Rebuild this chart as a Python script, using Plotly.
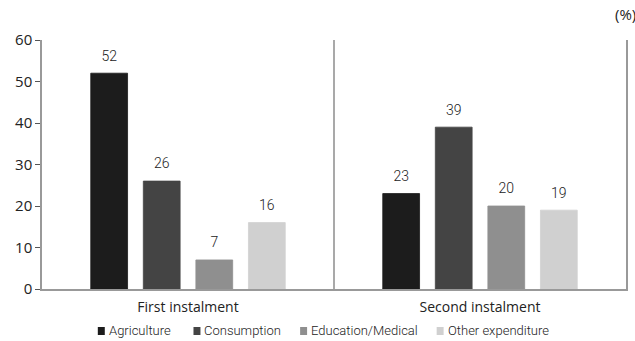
import plotly.graph_objects as go

# Share of each instalment spent by purpose (%)
instalments = ["First instalment", "Second instalment"]
series_names = ["Agriculture", "Consumption", "Education/Medical", "Other expenditure"]
series_values = [
    [52, 23],
    [26, 39],
    [7, 20],
    [16, 19],
]
series_colors = ["#1c1c1c", "#444444", "#8f8f8f", "#d0d0d0"]
y_ticks = [0, 10, 20, 30, 40, 50, 60]

# Pixel layout of the figure
W, H = 635, 341
ML, MR, MT, MB = 42, 7, 40, 52
plot_w = W - ML - MR
plot_h = H - MT - MB

# Legend entry left edges (pixels) for the hand-drawn legend row
legend_px = [98, 194, 301, 438]
legend_py = 331

NARROW = "Roboto"

fig = go.Figure()

for name, vals, col in zip(series_names, series_values, series_colors):
    fig.add_trace(go.Bar(
        x=instalments, y=vals, name=name, offsetgroup=name,
        marker=dict(color=col, line=dict(color=col, width=0.8)),
        showlegend=False, hoverinfo="skip",
    ))

# Value labels sitting above each bar, aligned with the grouped bars
for name, vals in zip(series_names, series_values):
    fig.add_trace(go.Scatter(
        x=instalments, y=vals, offsetgroup=name,
        mode="markers+text", text=[str(v) for v in vals],
        textposition="top center",
        textfont=dict(family=NARROW, size=14, color="#222", weight=300),
        marker=dict(size=13, opacity=0),
        showlegend=False, hoverinfo="skip", cliponaxis=False,
    ))

def px_to_paper_x(px):
    return (px - ML) / plot_w

def py_to_paper_y(py):
    return (H - MB - py) / plot_h

shapes = [
    # divider between the two instalments
    dict(type="line", xref="paper", yref="paper", x0=0.5, x1=0.5, y0=0, y1=1,
         line=dict(color="#8c8c8c", width=1.5)),
]
annotations = []
for name, col, lx in zip(series_names, series_colors, legend_px):
    shapes.append(dict(
        type="rect", xref="paper", yref="paper",
        x0=px_to_paper_x(lx), x1=px_to_paper_x(lx + 7),
        y0=py_to_paper_y(legend_py + 4), y1=py_to_paper_y(legend_py - 4),
        fillcolor=col, line=dict(width=0),
    ))
    annotations.append(dict(
        text=name, xref="paper", yref="paper",
        x=px_to_paper_x(lx + 9), y=py_to_paper_y(legend_py),
        xanchor="left", yanchor="middle", showarrow=False,
        font=dict(family=NARROW, size=13, color="#222", weight=300),
    ))

annotations.append(dict(
    text="(%)", xref="paper", yref="paper",
    x=px_to_paper_x(615), y=py_to_paper_y(14),
    xanchor="left", yanchor="middle", showarrow=False,
    font=dict(family="Open Sans", size=15, color="#222"),
))

fig.update_layout(
    width=W, height=H,
    margin=dict(l=ML, r=MR, t=MT, b=MB, pad=0),
    paper_bgcolor="white", plot_bgcolor="white",
    barmode="group", bargap=0.28, bargroupgap=0.3,
    scattermode="group", scattergap=0.28,
    showlegend=False,
    shapes=shapes, annotations=annotations,
    font=dict(family="Open Sans", color="#222"),
)

fig.update_xaxes(
    type="category", showgrid=False, zeroline=False,
    showline=True, linecolor="#999", linewidth=2,
    ticks="outside", ticklen=4, tickcolor="rgba(0,0,0,0)",
    tickfont=dict(family="Open Sans", size=14, color="#222"),
)
fig.update_yaxes(
    range=[0, 60], tickvals=y_ticks, showgrid=False, zeroline=False,
    showline=True, linecolor="#999", linewidth=1.5, mirror=True,
    ticks="outside", ticklen=5, tickcolor="#555", tickwidth=1,
    tickfont=dict(family="Open Sans", size=15, color="#222"),
)

fig.write_html("out.html")
